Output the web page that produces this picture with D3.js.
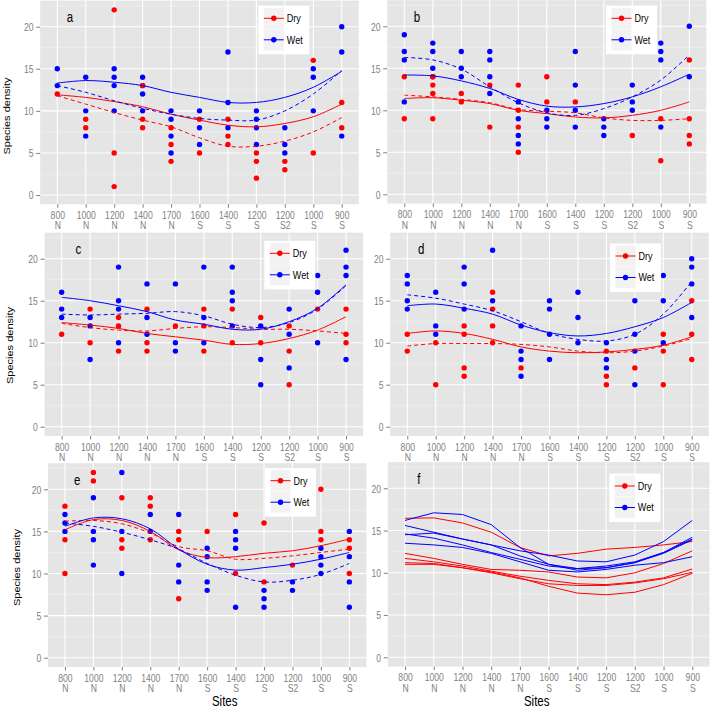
<!DOCTYPE html>
<html><head><meta charset="utf-8">
<script src="https://cdn.jsdelivr.net/npm/d3@7"></script>
<style>body{margin:0;background:#fff}svg{display:block}</style>
</head><body><svg id="chart" width="710" height="709"></svg>
<script>
// ---------- data ----------
const siteElev = ["800","1000","1200","1400","1700","1600","1400","1200","1200","1000","900"];
const siteSide = ["N","N","N","N","N","S","S","S","S2","S","S"];
const yTicks = [0,5,10,15,20];
const groups = ["Dry","Wet"];

// panel a
const aDry = [[12],[9,8],[22,5,1],[13,9,8],[8,6,4],[9,5],[9,7,6],[5,4,2],[4,3],[16,5],[11,8]];
const aWet = [[15,13],[14,10,7],[15,14,13,10],[14,13,12,10],[10,9,7,5],[10,8,6],[17,11,8],[10,9,8,6],[8,6,5],[15,14,10],[20,17,7]];
const aDrySolid = [11.9,11.6,11.1,10.5,9.6,8.9,8.3,8.1,8.5,9.3,10.8];
const aDryDash  = [11.8,10.8,9.8,8.9,8.1,6.8,5.8,5.8,6.4,7.5,9.2];
const aWetSolid = [13.3,13.6,13.4,13.0,12.2,11.6,11.0,11.0,11.6,12.8,14.7];
const aWetDash  = [13.0,12.2,11.2,10.3,9.6,9.1,8.9,8.9,10.0,12.0,14.8];
// panel b
const bDry = [[14,9],[14,13,12,9],[12,11],[13,8],[13,10,8,5],[14,11],[11],[],[7],[9,4],[16,9,7,6]];
const bWet = [[19,17,16,11],[18,17,15,14],[17,15,14],[17,16,14,12],[11,9,7,6],[10,9,8],[17,13,10,8],[9,8,7],[13,11,10],[18,17,16,8],[20,14]];
const bDrySolid = [11.4,11.5,11.2,10.8,10.0,9.6,9.2,9.1,9.4,10.0,11.0];
const bDryDash  = [11.8,11.6,11.3,10.9,10.1,9.9,9.7,9.1,8.8,8.8,9.0];
const bWetSolid = [14.2,14.1,13.5,12.6,11.3,10.5,10.4,10.8,11.6,12.8,14.3];
const bWetDash  = [16.3,16.0,14.9,12.8,10.9,9.7,9.4,10.2,11.6,13.6,16.6];
// panel c
const cDry = [[11],[14,10],[13,12,9],[14,10,9],[12],[14,12,9],[14,10],[13,10],[12,9,5],[14],[14,11,10]];
const cWet = [[16,14,13],[13,12,8],[19,15,14,10],[17,13,11],[17,10,9],[19,13,10],[19,16,15,12],[12,8,5],[14,11,7],[18,16,10],[21,19,18,8]];
const cDrySolid = [12.4,12.1,11.7,11.1,10.7,10.3,9.8,9.9,10.5,11.5,13.1];
const cDryDash  = [12.3,11.8,11.5,11.4,11.7,11.9,11.8,11.6,11.6,11.4,11.1];
const cWetSolid = [15.4,15.0,14.4,13.7,12.7,12.2,11.6,11.6,12.5,14.1,16.9];
const cWetDash  = [13.4,13.3,13.4,13.5,13.7,13.2,12.2,11.8,12.4,14.0,16.8];
// panel d
const dDry = [[11,9],[10,5],[12,11,7,6],[16,14,12,10],[7],[],[],[9,6,5],[7],[11,9,5],[15,11,8]];
const dWet = [[18,17,15,14],[16,12,11],[19,17,14],[21,15],[12,9,8,6],[15,14,11,8],[16,13,10],[10,8,7],[15,11,9,5],[18,15,10],[20,19,17,13]];
const dDrySolid = [11.1,11.4,11.1,10.4,9.5,9.0,8.8,8.9,9.2,9.7,10.7];
const dDryDash  = [9.6,9.9,9.9,9.9,9.8,9.5,9.0,8.8,9.0,9.6,10.5];
const dWetSolid = [14.4,14.6,14.1,13.4,12.1,11.2,10.8,11.1,11.9,13.0,14.8];
const dWetDash  = [15.7,15.3,14.6,13.8,12.5,11.1,10.4,10.2,11.0,13.4,17.3];
// panel e
const eDry = [[18,14,10],[22,21],[19,14,13],[19,18,14],[15,14,7],[15],[17,10],[16,9],[11],[20,15,14],[14,13,10]];
const eWet = [[17,16,15],[19,15,14,11],[22,15,10],[17,15],[17,11,9],[13,12,9,8],[15,14,13,6],[8,7,6],[9,8],[13,12,11,10],[15,12,9,6]];
const eDrySolid = [15.2,16.4,16.3,15.0,12.8,11.9,12.0,12.4,12.7,13.3,14.1];
const eDryDash  = [16.2,16.3,15.9,14.8,13.2,12.7,11.7,11.8,12.1,12.5,12.9];
const eWetSolid = [15.6,16.6,16.5,15.3,12.9,11.1,10.4,10.7,11.1,11.7,12.5];
const eWetDash  = [16.0,15.6,14.9,14.0,12.9,11.2,9.8,9.0,9.2,9.9,11.2];
// panel f (summary curves)
const fDryLines = [
  [16.45,16.5,15.9,14.8,13.0,12.0,12.3,12.8,13.0,13.3,13.7],
  [12.3,11.7,11.0,10.4,10.3,10.1,9.5,9.4,10.0,11.1,12.6],
  [11.7,11.3,10.8,10.2,9.6,9.1,8.7,8.6,8.9,9.4,10.45],
  [11.2,11.1,10.6,10.0,9.3,8.7,8.5,8.5,8.8,9.3,10.06],
  [11.0,11.0,10.6,10.1,9.4,8.4,7.6,7.4,7.7,8.6,9.94]
];
const fWetLines = [
  [16.2,17.1,16.9,15.7,13.0,11.0,10.5,10.6,11.2,12.4,14.0],
  [15.6,14.8,14.0,13.3,12.6,12.1,11.4,11.3,12.1,13.7,16.2],
  [14.6,14.1,13.3,12.4,11.6,10.8,10.5,10.8,11.3,12.4,14.2],
  [14.5,14.7,14.0,13.3,12.0,11.0,10.3,10.6,11.2,12.3,13.9],
  [13.5,13.3,13.0,12.3,11.3,10.3,10.1,10.4,10.9,11.2,11.9]
];

// ---------- layout ----------
const panels = [
  {id:"a", left:40.2, right:358.8, y0:195.0, y20:26.7, legX:258.3, legDot:18.3, letterX:70.0, smooth:true,
   pts:[aDry,aWet], solid:[[aDrySolid],[aWetSolid]], dash:[[aDryDash],[aWetDash]], yTitle:[9.8,116]},
  {id:"b", left:387.2, right:706.4, y0:194.3, y20:26.3, legX:606.0, legDot:18.3, letterX:417.0, smooth:true,
   pts:[bDry,bWet], solid:[[bDrySolid],[bWetSolid]], dash:[[bDryDash],[bWetDash]]},
  {id:"c", left:44.6, right:363.1, y0:426.7, y20:258.7, legX:264.3, legDot:253.3, letterX:78.3, smooth:true,
   pts:[cDry,cWet], solid:[[cDrySolid],[cWetSolid]], dash:[[cDryDash],[cWetDash]], yTitle:[13,345.5]},
  {id:"d", left:390.2, right:708.8, y0:426.7, y20:258.7, legX:610.0, legDot:256.0, letterX:421.3, smooth:true,
   pts:[dDry,dWet], solid:[[dDrySolid],[dWetSolid]], dash:[[dDryDash],[dWetDash]]},
  {id:"e", left:47.9, right:366.4, y0:657.7, y20:489.3, legX:265.0, legDot:480.7, letterX:77.2, smooth:true,
   pts:[eDry,eWet], solid:[[eDrySolid],[eWetSolid]], dash:[[eDryDash],[eWetDash]], yTitle:[19.8,567.5], xTitle:[224.7,706.0]},
  {id:"f", left:387.8, right:709.5, y0:657.3, y20:488.3, legX:609.3, legDot:486.0, letterX:418.8, smooth:false,
   pts:null, solid:[fDryLines,fWetLines], dash:[[],[]], xTitle:[536.7,706.0]}
];

const COLORS = {Dry:"#ff0000", Wet:"#0000ff"};
const GREY = "#7f7f7f";
const FONT = "'Liberation Sans', Arial, Helvetica, sans-serif";
const SX = 0.82; // horizontal squeeze of the original picture

const svg = d3.select("#chart").attr("font-family", FONT);

panels.forEach(p => {
  const g = svg.append("g");
  const x = d3.scalePoint().domain(d3.range(siteElev.length)).range([p.left, p.right]).padding(0.6);
  const y = d3.scaleLinear().domain([0,20]).range([p.y0, p.y20]);
  const top = y(23.1), bottom = y(-1.1);

  g.append("rect").attr("x",p.left).attr("y",top).attr("width",p.right-p.left)
    .attr("height",bottom-top).attr("fill","#e5e5e5");
  g.selectAll(".minor").data(d3.range(2.5,23,5)).join("line")
    .attr("x1",p.left).attr("x2",p.right).attr("y1",d=>y(d)).attr("y2",d=>y(d))
    .attr("stroke","#f2f2f2").attr("stroke-width",0.6);
  g.selectAll(".hmaj").data(yTicks).join("line")
    .attr("x1",p.left).attr("x2",p.right).attr("y1",d=>y(d)).attr("y2",d=>y(d))
    .attr("stroke","#ffffff").attr("stroke-width",1.1);
  g.selectAll(".vmaj").data(x.domain()).join("line")
    .attr("y1",top).attr("y2",bottom).attr("x1",d=>x(d)).attr("x2",d=>x(d))
    .attr("stroke","#ffffff").attr("stroke-width",1.1);

  const gx = g.append("g").attr("transform",`translate(0,${bottom})`)
    .call(d3.axisBottom(x).tickSize(3.5).tickFormat(i => siteElev[i]));
  gx.attr("font-family",FONT).attr("font-size",null);
  gx.select(".domain").remove();
  gx.selectAll(".tick line").attr("stroke",GREY);
  gx.selectAll(".tick text").each(function(i){
    const t = d3.select(this);
    t.text(null).attr("y",null).attr("dy",null).attr("fill",GREY)
     .attr("font-size",10.5).attr("transform",`scale(${SX},1)`);
    t.append("tspan").attr("x",0).attr("y",14.6).text(siteElev[i]);
    t.append("tspan").attr("x",0).attr("y",25.1).text(siteSide[i]);
  });
  const gy = g.append("g").attr("transform",`translate(${p.left},0)`)
    .call(d3.axisLeft(y).tickValues(yTicks).tickSize(4).tickFormat(d3.format("d")));
  gy.attr("font-family",FONT).attr("font-size",null);
  gy.select(".domain").remove();
  gy.selectAll(".tick line").attr("stroke",GREY);
  gy.selectAll(".tick text").attr("fill",GREY).attr("font-size",10.5)
    .attr("x",-6.7/SX).attr("dy","0.36em").attr("transform",`scale(${SX},1)`);

  if (p.pts) {
    [1,0].forEach(k => {
      const flat = [];
      p.pts[k].forEach((vals,i) => vals.forEach(v => flat.push({i, v})));
      g.selectAll(null).data(flat).join("circle")
        .attr("cx",d=>x(d.i)).attr("cy",d=>y(d.v)).attr("r",2.7)
        .attr("fill",COLORS[groups[k]]);
    });
  }
  const line = d3.line().x((d,i)=>x(i)).y(d=>y(d))
    .curve(p.smooth ? d3.curveCatmullRom.alpha(0.5) : d3.curveLinear);
  [0,1].forEach(k => {
    p.dash[k].forEach(arr => g.append("path").attr("d",line(arr)).attr("fill","none")
      .attr("stroke",COLORS[groups[k]]).attr("stroke-width",1).attr("stroke-dasharray","4,3"));
    p.solid[k].forEach(arr => g.append("path").attr("d",line(arr)).attr("fill","none")
      .attr("stroke",COLORS[groups[k]]).attr("stroke-width",1));
  });

  g.append("text").attr("transform",`translate(${p.letterX},${y(21)+3.8}) scale(${SX},1)`)
    .attr("text-anchor","middle").attr("font-size",14).attr("fill","#000").text(p.id);

  const lg = g.append("g");
  const boxTop = p.legDot - 12.5;
  lg.append("rect").attr("x",p.legX).attr("y",boxTop).attr("width",51).attr("height",48.5).attr("fill","#ffffff");
  groups.forEach((name,k) => {
    const cy = p.legDot + k*21.5;
    lg.append("rect").attr("x",p.legX+5.5).attr("y",cy-10.5).attr("width",20).attr("height",21)
      .attr("fill","#f2f2f2");
    lg.append("line").attr("x1",p.legX+5.5).attr("x2",p.legX+25.5).attr("y1",cy).attr("y2",cy)
      .attr("stroke",COLORS[name]).attr("stroke-width",1);
    lg.append("circle").attr("cx",p.legX+15.5).attr("cy",cy).attr("r",2.7).attr("fill",COLORS[name]);
    lg.append("text").attr("transform",`translate(${p.legX+28.5},${cy+3.9}) scale(${SX},1)`)
      .attr("font-size",11).attr("fill","#000").text(name);
  });

  if (p.yTitle) {
    g.append("text").attr("transform",`translate(${p.yTitle[0]},${p.yTitle[1]}) scale(${SX},1) rotate(-90)`)
      .attr("text-anchor","middle").attr("font-size",11).attr("fill","#000").text("Species density");
  }
  if (p.xTitle) {
    g.append("text").attr("transform",`translate(${p.xTitle[0]},${p.xTitle[1]}) scale(${SX},1)`)
      .attr("text-anchor","middle").attr("font-size",14).attr("fill","#000").text("Sites");
  }
});
</script></body></html>
